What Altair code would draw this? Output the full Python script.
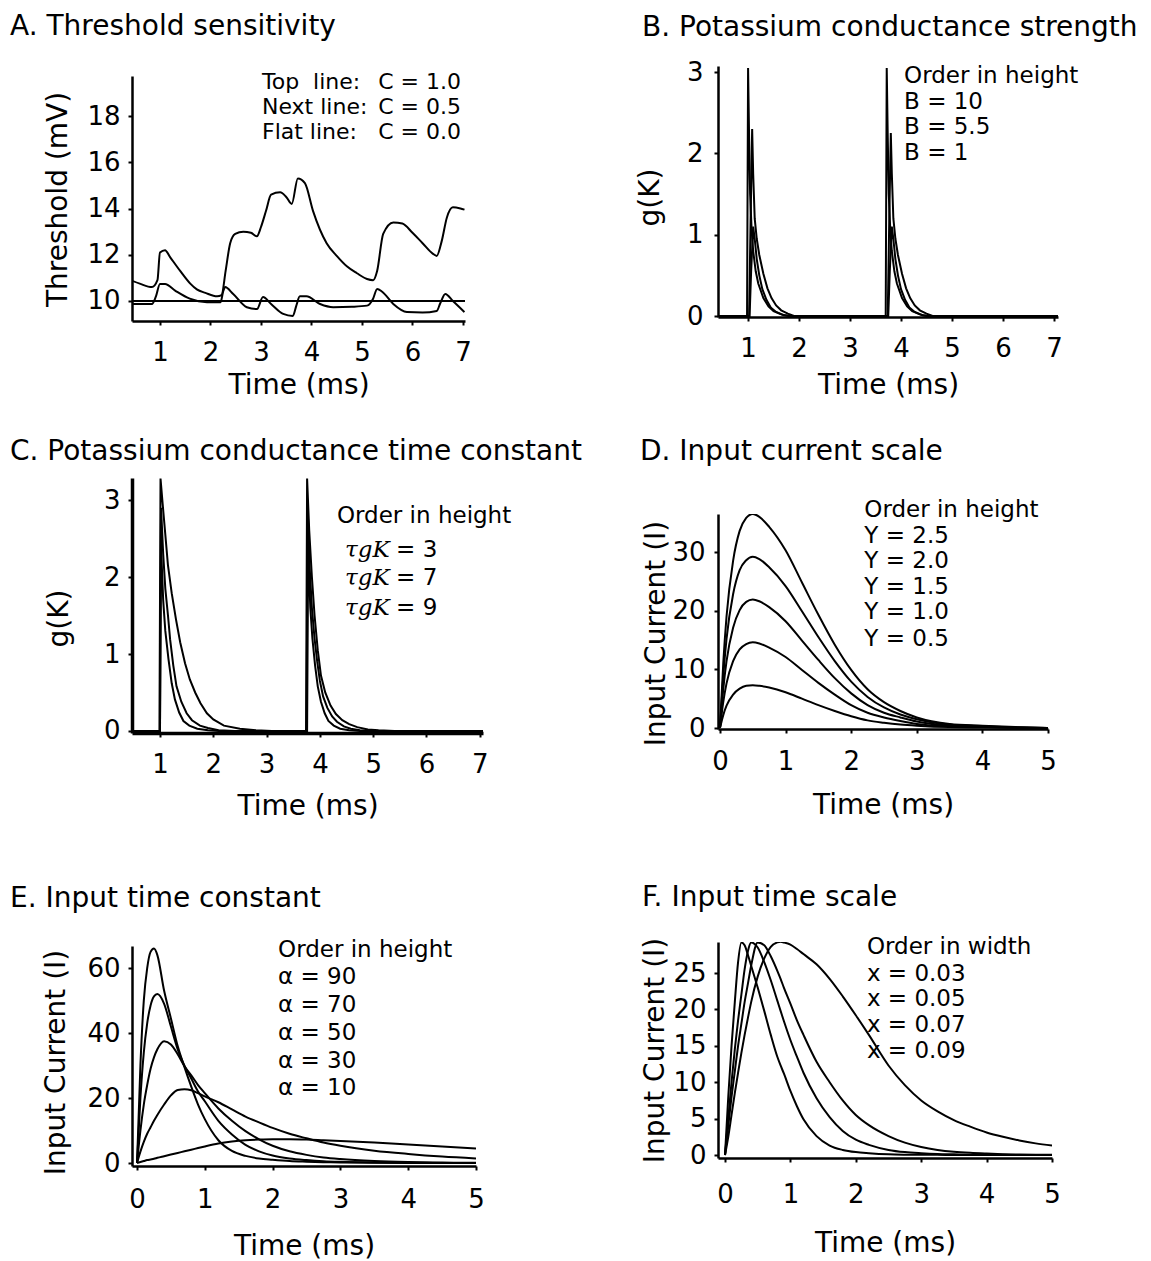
import altair as alt
import pandas as pd

FONT = "DejaVu Sans"
SERIF = "DejaVu Serif"

# ---------------- Panel A: threshold sensitivity ----------------
A_top_t = [0.45, 0.6, 0.84, 0.95, 1.0, 1.1, 1.2, 1.4, 1.6, 1.73, 1.9, 2.13, 2.22, 2.3, 2.39, 2.49, 2.65, 2.8, 2.92, 3.0,
           3.1, 3.2, 3.38, 3.5, 3.61, 3.73, 3.87, 4.03, 4.3, 4.5, 4.7, 4.9, 5.1, 5.22, 5.3, 5.42, 5.62, 5.8, 6.0, 6.2,
           6.4, 6.48, 6.58, 6.68, 6.8, 6.95, 7.03]
A_top_v = [10.87, 10.75, 10.6, 10.9, 12.1, 12.2, 11.9, 11.3, 10.75, 10.5, 10.35, 10.2, 10.25, 11.3, 12.5, 12.9, 13.0, 12.95, 12.8, 13.2,
           13.9, 14.6, 14.7, 14.5, 14.2, 15.3, 15.1, 13.9, 12.5, 11.95, 11.5, 11.2, 10.95, 10.9, 11.3, 12.9, 13.4, 13.35, 12.95, 12.5,
           12.05, 11.95, 12.6, 13.6, 14.05, 14.0, 13.95]
A_mid_t = [0.45, 0.84, 0.92, 1.0, 1.1, 1.3, 1.59, 1.93, 2.2, 2.25, 2.29, 2.45, 2.72, 2.92, 3.04, 3.2, 3.44, 3.63, 3.7, 3.77,
           3.9, 4.17, 4.43, 4.8, 5.1, 5.22, 5.3, 5.4, 5.62, 5.89, 6.2, 6.48, 6.55, 6.65, 6.8, 7.03]
A_mid_v = [9.87, 9.87, 10.2, 10.73, 10.73, 10.45, 10.1, 9.95, 9.95, 10.4, 10.6, 10.3, 9.73, 9.65, 10.17, 9.87, 9.44, 9.35, 9.8, 10.2,
           10.2, 9.87, 9.73, 9.75, 9.8, 10.1, 10.52, 10.4, 9.87, 9.52, 9.5, 9.57, 9.9, 10.3, 10.0, 9.52]
A_flat_t = [0.446, 7.04]
A_flat_v = [10.0, 10.0]
A_xticks = [1, 2, 3, 4, 5, 6, 7]
A_yticks = [10, 12, 14, 16, 18]
A_note_names = ["Top\u00a0 line:", "Next line:", "Flat line:"]
A_note_vals = ["C = 1.0", "C = 0.5", "C = 0.0"]

# ---------------- Panel B: potassium conductance strength ----------------
B10_t = [0.41, 0.98, 1.0, 1.02, 1.04, 1.07, 1.1, 1.15, 1.2, 1.3, 1.4, 1.5, 1.65, 1.8,
         3.7, 3.72, 3.74, 3.76, 3.79, 3.82, 3.87, 3.92, 4.02, 4.12, 4.22, 4.37, 4.5, 7.08]
B10_v = [0, 0, 3.05, 2.2, 1.5, 1.05, 0.8, 0.55, 0.4, 0.22, 0.12, 0.06, 0.02, 0,
         0, 3.05, 2.2, 1.5, 1.05, 0.8, 0.55, 0.4, 0.22, 0.12, 0.06, 0.02, 0, 0]
B55_t = [0.41, 1.02, 1.05, 1.08, 1.1, 1.13, 1.17, 1.22, 1.3, 1.38, 1.46, 1.55, 1.65, 1.78, 1.9,
         3.74, 3.77, 3.8, 3.82, 3.85, 3.89, 3.94, 4.02, 4.1, 4.18, 4.27, 4.37, 4.5, 4.62, 7.08]
B55_v = [0, 0, 1.2, 2.3, 1.75, 1.2, 0.95, 0.75, 0.52, 0.34, 0.22, 0.13, 0.07, 0.03, 0,
         0, 1.2, 2.25, 1.75, 1.2, 0.95, 0.75, 0.52, 0.34, 0.22, 0.13, 0.07, 0.03, 0, 0]
B1_t = [0.41, 1.03, 1.06, 1.1, 1.13, 1.17, 1.22, 1.28, 1.36, 1.45, 1.55, 1.7, 1.85,
        3.75, 3.78, 3.82, 3.85, 3.89, 3.94, 4.0, 4.08, 4.17, 4.27, 4.42, 4.57, 7.08]
B1_v = [0, 0, 0.55, 1.1, 0.95, 0.7, 0.5, 0.33, 0.2, 0.1, 0.05, 0.01, 0,
        0, 0.55, 1.1, 0.95, 0.7, 0.5, 0.33, 0.2, 0.1, 0.05, 0.01, 0, 0]
B_xticks = [1, 2, 3, 4, 5, 6, 7]
B_yticks = [0, 1, 2, 3]
B_notes = ["Order in height", "B = 10", "B = 5.5", "B = 1"]

# ---------------- Panel C: potassium conductance time constant ----------------
C3_t = [0.475, 0.99, 1.01, 1.05, 1.1, 1.15, 1.22, 1.3, 1.38, 1.47, 1.56, 1.66, 1.76, 1.88, 2.0, 2.2, 2.5, 2.8, 3.1,
        3.74, 3.76, 3.8, 3.85, 3.9, 3.96, 4.02, 4.1, 4.2, 4.3, 4.42, 4.55, 4.7, 4.9, 5.1, 5.4, 7.06]
C3_v = [0, 0, 3.28, 2.95, 2.55, 2.15, 1.79, 1.45, 1.15, 0.88, 0.67, 0.5, 0.36, 0.23, 0.15, 0.07, 0.03, 0.01, 0,
        0, 3.28, 2.6, 2.0, 1.5, 1.05, 0.72, 0.5, 0.33, 0.22, 0.14, 0.09, 0.05, 0.02, 0.01, 0, 0]
C7_t = [0.475, 1.0, 1.02, 1.06, 1.1, 1.15, 1.19, 1.25, 1.31, 1.4, 1.5, 1.6, 1.75, 1.9, 2.1, 2.4,
        3.75, 3.77, 3.81, 3.85, 3.9, 3.95, 4.0, 4.06, 4.14, 4.23, 4.32, 4.45, 4.58, 4.75, 5.0, 7.06]
C7_v = [0, 0, 2.9, 2.3, 1.85, 1.5, 1.19, 0.85, 0.58, 0.38, 0.23, 0.14, 0.07, 0.04, 0.01, 0,
        0, 2.9, 2.1, 1.6, 1.2, 0.9, 0.65, 0.45, 0.3, 0.19, 0.12, 0.06, 0.03, 0.01, 0, 0]
C9_t = [0.475, 1.0, 1.02, 1.06, 1.1, 1.16, 1.22, 1.28, 1.36, 1.44, 1.55, 1.7, 1.9, 2.1,
        3.76, 3.78, 3.82, 3.86, 3.91, 3.96, 4.02, 4.09, 4.16, 4.26, 4.38, 4.55, 4.75, 7.06]
C9_v = [0, 0, 2.4, 1.7, 1.3, 0.93, 0.62, 0.41, 0.24, 0.13, 0.07, 0.03, 0.01, 0,
        0, 2.4, 1.6, 1.2, 0.85, 0.58, 0.38, 0.23, 0.13, 0.07, 0.03, 0.01, 0, 0]
C_xticks = [1, 2, 3, 4, 5, 6, 7]
C_yticks = [0, 1, 2, 3]
C_head = ["Order in height"]
C_tau = ["\u03c4gK", "\u03c4gK", "\u03c4gK"]
C_vals = ["= 3", "= 7", "= 9"]

# ---------------- Panel D: input current scale ----------------
D_t = [0, 0.05, 0.1, 0.2, 0.3, 0.4, 0.5, 0.6, 0.75, 1.0, 1.25, 1.5, 1.75, 2.0, 2.25, 2.5, 2.75, 3.0, 3.5, 4.0, 4.5, 5.0]
D_y25 = [0, 11, 19, 28.5, 33.6, 35.8, 36.5, 36, 34.3, 30.3, 24.8, 19.3, 14.2, 9.9, 6.6, 4.4, 2.9, 1.8, 0.7, 0.4, 0.15, 0]
D_y20 = [0, 8.8, 15.2, 22.8, 26.9, 28.6, 29.2, 28.8, 27.4, 24.2, 19.9, 15.5, 11.4, 7.9, 5.3, 3.5, 2.3, 1.5, 0.6, 0.3, 0.1, 0]
D_y15 = [0, 6.6, 11.4, 17.1, 20.1, 21.5, 21.9, 21.6, 20.6, 18.2, 14.9, 11.6, 8.5, 5.9, 3.9, 2.6, 1.8, 1.1, 0.4, 0.2, 0.1, 0]
D_y10 = [0, 4.4, 7.6, 11.4, 13.4, 14.3, 14.6, 14.4, 13.7, 12.1, 9.9, 7.7, 5.7, 3.9, 2.6, 1.8, 1.2, 0.7, 0.3, 0.15, 0.05, 0]
D_y05 = [0, 2.2, 3.8, 5.7, 6.7, 7.2, 7.3, 7.2, 6.9, 6.1, 5.0, 3.9, 2.9, 2.0, 1.3, 0.9, 0.6, 0.4, 0.15, 0.08, 0.03, 0]
D_xticks = [0, 1, 2, 3, 4, 5]
D_yticks = [0, 10, 20, 30]
D_notes = ["Order in height", "Y = 2.5", "Y = 2.0", "Y = 1.5", "Y = 1.0", "Y = 0.5"]

# ---------------- Panel E: input time constant ----------------
E_t = [0, 0.05, 0.1, 0.15, 0.2, 0.25, 0.3, 0.4, 0.5, 0.6, 0.7, 0.8, 0.9, 1.0, 1.2, 1.4, 1.6, 1.8, 2.0, 2.25,
       2.5, 2.75, 3.0, 3.5, 4.0, 4.5, 5.0]
E_a90 = [0, 30, 50, 60, 65, 66, 64, 53, 44.5, 36, 29.5, 23.5, 18, 13.5, 7, 3.7, 2.2, 1.4, 1.0, 0.6,
         0.4, 0.25, 0.15, 0.08, 0.04, 0.02, 0.01]
E_a70 = [0, 20, 34, 43, 48.5, 51.3, 52, 49, 42, 35, 30, 26, 22, 19, 13, 8.8, 5.6, 3.6, 2.3, 1.4,
         0.9, 0.55, 0.35, 0.15, 0.07, 0.03, 0.01]
E_a50 = [0, 10, 18, 24, 29, 32.5, 35, 37.5, 36.5, 33.5, 29.8, 27, 24, 21.5, 16.8, 13, 9.8, 7.3, 5.3, 3.6,
         2.5, 1.7, 1.2, 0.6, 0.3, 0.15, 0.08]
E_a30 = [0, 3.5, 6.5, 9, 11, 13, 14.8, 18, 20.8, 22.5, 22.7, 22.4, 21.5, 20.5, 18.7, 16.5, 14.3, 12.5, 10.8, 9.0,
         7.6, 6.3, 5.3, 3.8, 2.8, 2.0, 1.4]
E_a10 = [0, 0.3, 0.6, 0.9, 1.1, 1.3, 1.6, 2.1, 2.6, 3.1, 3.6, 4.1, 4.6, 5.1, 6.0, 6.6, 7.0, 7.2, 7.3, 7.3,
         7.2, 7.0, 6.8, 6.3, 5.7, 5.1, 4.5]
E_xticks = [0, 1, 2, 3, 4, 5]
E_yticks = [0, 20, 40, 60]
E_notes = ["Order in height", "\u03b1 = 90", "\u03b1 = 70", "\u03b1 = 50", "\u03b1 = 30", "\u03b1 = 10"]

# ---------------- Panel F: input time scale ----------------
F_t = [0, 0.05, 0.1, 0.15, 0.2, 0.25, 0.3, 0.35, 0.4, 0.5, 0.6, 0.7, 0.8, 0.85, 0.9, 1.0, 1.1, 1.2, 1.4, 1.6,
       1.8, 2.0, 2.2, 2.5, 2.75, 3.0, 3.25, 3.5, 3.75, 4.0, 4.25, 4.5, 4.75, 5.0]
F_x03 = [0, 8, 15, 21, 26.5, 29.2, 28.8, 27.5, 26, 23, 19.8, 16.5, 13.5, 12.3, 11.2, 8.8, 6.7, 4.9, 2.6, 1.3,
         0.7, 0.4, 0.25, 0.1, 0.05, 0.03, 0.02, 0.01, 0, 0, 0, 0, 0, 0]
F_x05 = [0, 5, 10, 14.5, 18.5, 22, 25.5, 28, 29.2, 28.5, 26.5, 24, 21.2, 19.8, 18.4, 15.8, 13.5, 11.3, 7.8, 5.2,
         3.3, 2.1, 1.4, 0.7, 0.4, 0.25, 0.15, 0.1, 0.05, 0.03, 0.02, 0.01, 0, 0]
F_x07 = [0, 4, 8, 11.5, 15, 18, 21, 23.5, 26, 29.2, 28.8, 27.3, 25.3, 24.2, 23, 20.8, 18.5, 16.5, 12.8, 10,
         7.5, 5.5, 4.1, 2.6, 1.7, 1.1, 0.7, 0.45, 0.3, 0.2, 0.12, 0.08, 0.05, 0.03]
F_x09 = [0, 2.5, 5.5, 8.5, 11.3, 14, 16.5, 18.8, 21, 24.5, 27, 28.6, 29.2, 29.3, 29.2, 28.9, 28.3, 27.6, 26.2, 24.2,
         21.8, 19.2, 16.5, 12.3, 9.6, 7.5, 6.0, 4.8, 3.9, 3.1, 2.5, 2.0, 1.6, 1.3]
F_xticks = [0, 1, 2, 3, 4, 5]
F_yticks = [0, 5, 10, 15, 20, 25]
F_notes = ["Order in width", "x = 0.03", "x = 0.05", "x = 0.07", "x = 0.09"]


# ---------------- helpers ----------------
def lines_df(series):
    rows = []
    for name, ts, vs in series:
        for i, (t, v) in enumerate(zip(ts, vs)):
            rows.append({"t": t, "v": v, "s": name, "o": i})
    return pd.DataFrame(rows)


def notes_df(texts, t, vs):
    return pd.DataFrame({"t": [t] * len(texts), "v": vs, "label": texts})


def panel(lines, notes, xdom, ydom, w, h, xticks, yticks, title, tdx, toff,
          ytitle, ytx, yty, xty, xlp, ylp, interp="linear", domw=2.5, nsize=23):
    x = alt.X("t:Q", scale=alt.Scale(domain=xdom, nice=False, zero=False),
              axis=alt.Axis(values=xticks, title="Time (ms)", titleY=xty, titleBaseline="alphabetic",
                            labelPadding=xlp, domainWidth=domw))
    y = alt.Y("v:Q", scale=alt.Scale(domain=ydom, nice=False, zero=False),
              axis=alt.Axis(values=yticks, title=ytitle, titleX=ytx, titleY=yty, titleBaseline="alphabetic",
                            labelPadding=ylp, domainWidth=domw))
    layers = [alt.Chart(lines).mark_line(color="black", strokeWidth=2, clip=True, interpolate=interp).encode(
        x=x, y=y, detail="s:N", order="o:Q")]
    for df, font, style in notes:
        layers.append(alt.Chart(df).mark_text(align="left", baseline="alphabetic", fontSize=nsize, font=font,
                                              fontStyle=style, color="black").encode(x=x, y=y, text="label:N"))
    return alt.layer(*layers).properties(
        width=w, height=h,
        title=alt.TitleParams(text=title, anchor="start", frame="group", dx=tdx, offset=toff,
                              fontSize=28, font=FONT, fontWeight="normal", color="black"))


def spacer():
    return alt.Chart(pd.DataFrame({"t": [0]})).mark_point(opacity=0, size=0).properties(width=4, height=5)


# ---------------- panels ----------------
pA = panel(
    lines_df([("top", A_top_t, A_top_v), ("next", A_mid_t, A_mid_v), ("flat", A_flat_t, A_flat_v)]),
    [(notes_df(A_note_names, 3.02, [19.18, 18.10, 17.01]), FONT, "normal"),
     (notes_df(A_note_vals, 5.32, [19.18, 18.10, 17.01]), FONT, "normal")],
    [0.446, 7.04], [9.135, 19.73], 333, 245, A_xticks, A_yticks,
    "A. Threshold sensitivity", -122, 29.7, "Threshold (mV)", -66, 123, 72, 14, 8,
    interp="monotone", nsize=22)

pB = panel(
    lines_df([("B10", B10_t, B10_v), ("B5.5", B55_t, B55_v), ("B1", B1_t, B1_v)]),
    [(notes_df(B_notes, 4.06, [2.866, 2.546, 2.239, 1.919]), FONT, "normal")],
    [0.41, 7.08], [-0.012, 3.074], 340, 251, B_xticks, B_yticks,
    "B. Potassium conductance strength", -76, 17.4, "g(K)", -60, 131, 76, 14, 11)

pC = panel(
    lines_df([("tau3", C3_t, C3_v), ("tau7", C7_t, C7_v), ("tau9", C9_t, C9_v)]),
    [(notes_df(C_head, 4.32, [2.70]), FONT, "normal"),
     (notes_df(C_tau, 4.47, [2.26, 1.90, 1.51]), SERIF, "italic"),
     (notes_df(C_vals, 5.43, [2.26, 1.90, 1.51]), FONT, "normal")],
    [0.475, 7.06], [-0.026, 3.286], 351, 255, C_xticks, C_yticks,
    "C. Potassium conductance time constant", -122, 12.1, "g(K)", -64.5, 140, 81, 14, 8, domw=3.5)

pD = panel(
    lines_df([("Y2.5", D_t, D_y25), ("Y2.0", D_t, D_y20), ("Y1.5", D_t, D_y15),
              ("Y1.0", D_t, D_y10), ("Y0.5", D_t, D_y05)]),
    [(notes_df(D_notes, 2.2, [35.9, 31.5, 27.3, 22.8, 18.6, 14.0]), FONT, "normal")],
    [-0.03, 5.0], [-0.17, 36.48], 330, 215, D_xticks, D_yticks,
    "D. Input current scale", -78, 33.9, "Input Current (I)", -54, 119, 84, 15, 9, interp="monotone")

pE = panel(
    lines_df([("a90", E_t, E_a90), ("a70", E_t, E_a70), ("a50", E_t, E_a50),
              ("a30", E_t, E_a30), ("a10", E_t, E_a10)]),
    [(notes_df(E_notes, 2.08, [63.4, 55.1, 46.5, 37.8, 29.2, 20.9]), FONT, "normal")],
    [-0.074, 5.0], [-0.92, 66.8], 344, 220, E_xticks, E_yticks,
    "E. Input time constant", -122, 25.9, "Input Current (I)", -68, 116, 88, 16, 8, interp="monotone")

pF = panel(
    lines_df([("x03", F_t, F_x03), ("x05", F_t, F_x05), ("x07", F_t, F_x07), ("x09", F_t, F_x09)]),
    [(notes_df(F_notes, 2.17, [27.6, 23.9, 20.5, 16.9, 13.3]), FONT, "normal")],
    [-0.107, 5.0], [-0.41, 29.26], 334, 216, F_xticks, F_yticks,
    "F. Input time scale", -76, 23.9, "Input Current (I)", -54.3, 108, 93, 19, 8, interp="monotone")

colL = alt.vconcat(alt.vconcat(alt.vconcat(spacer(), pA, spacing=0), pC, spacing=38), pE, spacing=65)
colR = alt.vconcat(alt.vconcat(alt.vconcat(spacer(), pB, spacing=0), pD, spacing=38), pF, spacing=65)

chart = alt.hconcat(colL, colR, spacing=54).properties(
    padding={"left": 2, "top": 0, "right": 0, "bottom": 0}
).configure_view(strokeWidth=0).configure_axis(
    domainColor="black", tickColor="black", tickWidth=2, tickSize=4,
    labelColor="black", titleColor="black", labelFont=FONT, titleFont=FONT,
    labelFontSize=26, titleFontSize=28, titleFontWeight="normal",
    grid=False, labelFlush=False, labelOverlap=False
)

chart.save("out.html", embed_options={"renderer": "svg", "actions": False})
